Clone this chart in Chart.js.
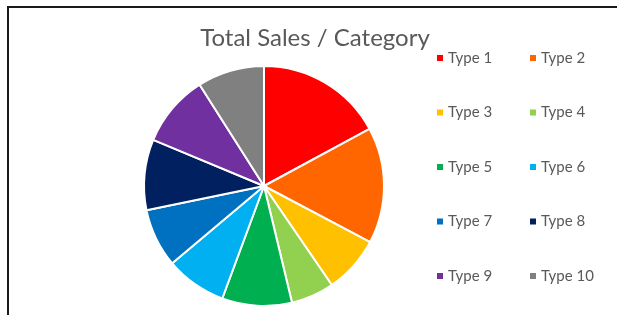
<!DOCTYPE html>
<html>
<head>
<meta charset="utf-8">
<script src="https://cdn.jsdelivr.net/npm/chart.js@4"></script>
<style>
  html, body { margin: 0; padding: 0; background: #fff; }
  #wrap { position: relative; width: 617px; height: 315px; }
  #frame { position: absolute; left: 7px; top: 6px; right: 0; bottom: -4px;
           border-left: 2px solid #1a1a1a; border-top: 2px solid #1a1a1a; pointer-events: none; }
  canvas { position: absolute; left: 0; top: 0; }
</style>
</head>
<body>
<div id="wrap">
  <canvas id="salesChart" width="617" height="315"></canvas>
  <div id="frame"></div>
</div>
<script>
const categories = ['Type 1', 'Type 2', 'Type 3', 'Type 4', 'Type 5', 'Type 6', 'Type 7', 'Type 8', 'Type 9', 'Type 10'];
const sales = [171, 156, 77, 58, 94, 82, 79, 95, 97, 90];
const colors = ['#FF0000', '#FF6600', '#FFC000', '#92D050', '#00B050', '#00B0F0', '#0070C0', '#002060', '#7030A0', '#808080'];
const chartTitle = 'Total Sales / Category';

// titel + legende in zwei spalten (wie Excel)
const excelLegend = {
  id: 'excelLegend',
  afterDraw(chart) {
    const ctx = chart.ctx;
    ctx.save();
    ctx.fillStyle = '#595959';
    ctx.font = '24px Lato, "Open Sans", sans-serif';
    ctx.textAlign = 'center';
    ctx.textBaseline = 'alphabetic';
    ctx.fillText(chartTitle, 315, 46);

    const labels = chart.data.labels;
    const bg = chart.data.datasets[0].backgroundColor;
    ctx.font = '15px Lato, "Open Sans", sans-serif';
    ctx.textAlign = 'left';
    ctx.textBaseline = 'middle';
    labels.forEach((lbl, i) => {
      const col = i % 2, row = Math.floor(i / 2);
      const x = 437 + col * 93;
      const y = 58 + row * 54.5;
      ctx.fillStyle = bg[i];
      ctx.fillRect(x, y - 3, 6, 6);
      ctx.fillStyle = '#595959';
      ctx.fillText(lbl, x + 11, y);
    });
    ctx.restore();
  }
};

new Chart(document.getElementById('salesChart'), {
  type: 'pie',
  data: {
    labels: categories,
    datasets: [{
      data: sales,
      backgroundColor: colors,
      borderColor: '#ffffff',
      borderWidth: 2
    }]
  },
  options: {
    responsive: false,
    animation: false,
    layout: { padding: { left: 143, right: 232, top: 65, bottom: 8 } },
    plugins: {
      legend: { display: false },
      title: { display: false },
      tooltip: { enabled: false }
    }
  },
  plugins: [excelLegend]
});
</script>
</body>
</html>
